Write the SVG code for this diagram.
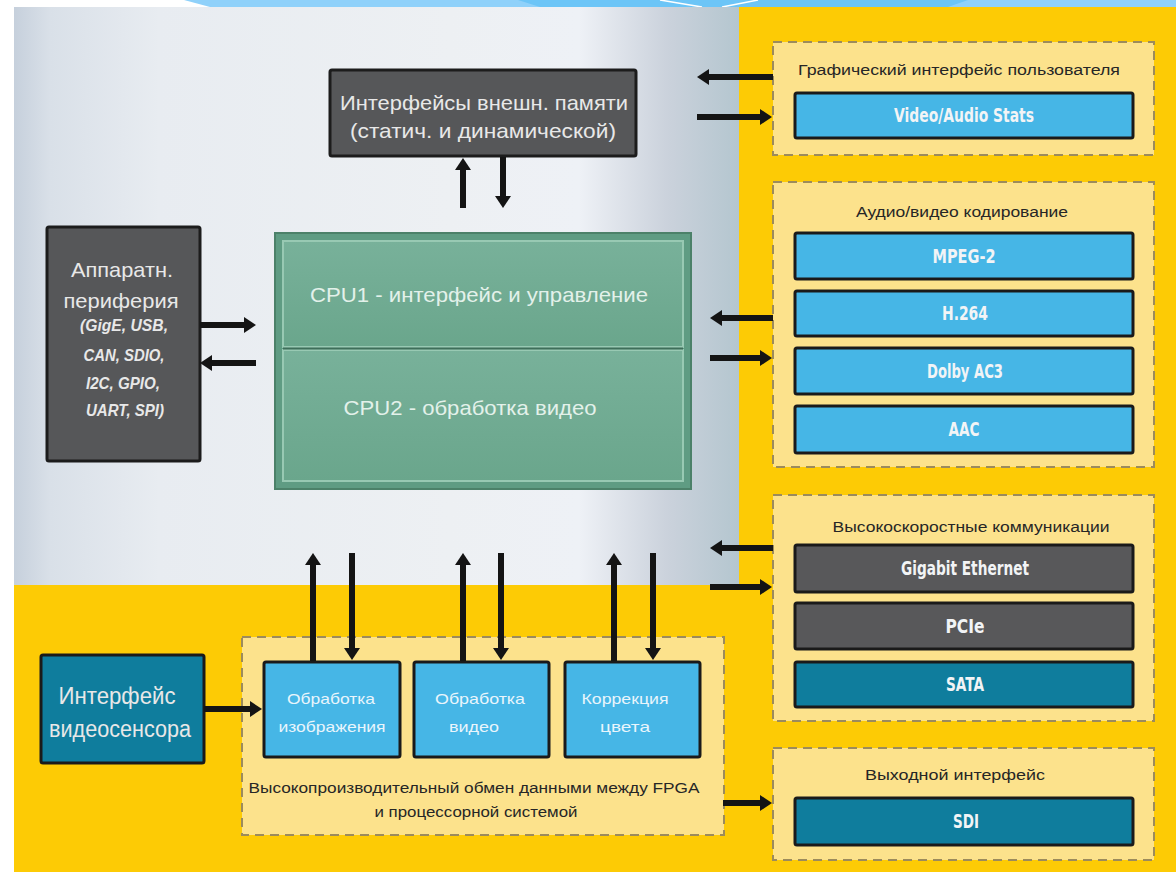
<svg xmlns="http://www.w3.org/2000/svg" width="1176" height="872" viewBox="0 0 1176 872">
<defs>
<linearGradient id="bgGray" x1="0" y1="0" x2="1" y2="0">
<stop offset="0" stop-color="#c6d0dc"/>
<stop offset="0.05" stop-color="#d9e0e8"/>
<stop offset="0.2" stop-color="#e8ecf1"/>
<stop offset="0.6" stop-color="#edf0f3"/>
<stop offset="0.78" stop-color="#eef1f6"/>
<stop offset="0.9" stop-color="#cbd2dc"/>
<stop offset="1" stop-color="#b4c6cf"/>
</linearGradient>
<linearGradient id="cpuFill" x1="0" y1="0" x2="0" y2="1">
<stop offset="0" stop-color="#78b19a"/>
<stop offset="1" stop-color="#6aa68c"/>
</linearGradient>
<marker id="ah" viewBox="0 0 12 16" refX="6" refY="8" markerWidth="12" markerHeight="16" markerUnits="userSpaceOnUse" orient="auto">
<path d="M0,0 L12,8 L0,16 z" fill="#141414"/>
</marker>
<style>
.arr{stroke:#141414;stroke-width:6;fill:none;marker-end:url(#ah)}
.grp{fill:#fce28c;stroke:#9c8b5c;stroke-width:2;stroke-dasharray:9 6}
.dark{fill:#565759;stroke:#1c1c1c;stroke-width:3}
.lblue{fill:#46b6e6;stroke:#1a1a1a;stroke-width:3}
.teal{fill:#0f7d9d;stroke:#1a1a1a;stroke-width:3}
.gbox{fill:#58585a;stroke:#1a1a1a;stroke-width:3}
.t{font-family:"Liberation Sans","DejaVu Sans",sans-serif;text-anchor:middle}
.lt{fill:#e8e8e8}
.bt{font-family:"DejaVu Sans Condensed","Liberation Sans",sans-serif;font-weight:bold;text-anchor:middle;fill:#f2f4f6;font-size:19px}
.cap{fill:#262626;font-size:14px}
</style>
</defs>

<g id="background">
<rect x="0" y="0" width="1176" height="872" fill="#ffffff"/>
<polygon points="184,0 1176,0 1176,7 210,7" fill="#8fd1fa"/>
<polygon points="518,0 968,0 948,7 540,7" fill="#6cc5f7"/>
<path d="M660,0 L702,7 M758,0 L722,7" stroke="#ffffff" stroke-width="1.5" fill="none"/>
<rect x="14" y="7" width="725" height="578" fill="url(#bgGray)"/>
<rect x="739" y="7" width="437" height="865" fill="#fdcb05"/>
<rect x="14" y="585" width="725" height="287" fill="#fdcb05"/>
</g>

<g id="mem-if">
<rect class="dark" x="330" y="70" width="306" height="86" rx="2"/>
<text class="t lt" x="484" y="110" font-size="21" textLength="288" lengthAdjust="spacingAndGlyphs">Интерфейсы внешн. памяти</text>
<text class="t lt" x="483" y="138" font-size="21" textLength="266" lengthAdjust="spacingAndGlyphs">(статич. и динамической)</text>
</g>

<g id="periph">
<rect class="dark" x="47" y="227" width="153" height="234" rx="2"/>
<text class="t lt" x="122" y="277" font-size="21" textLength="102" lengthAdjust="spacingAndGlyphs">Аппаратн.</text>
<text class="t lt" x="121" y="308" font-size="21" textLength="115" lengthAdjust="spacingAndGlyphs">периферия</text>
<text class="t lt" x="124" y="331" font-size="17" font-style="italic" font-weight="bold" textLength="88" lengthAdjust="spacingAndGlyphs">(GigE, USB,</text>
<text class="t lt" x="124" y="361" font-size="17" font-style="italic" font-weight="bold" textLength="81" lengthAdjust="spacingAndGlyphs">CAN, SDIO,</text>
<text class="t lt" x="123" y="389" font-size="17" font-style="italic" font-weight="bold" textLength="74" lengthAdjust="spacingAndGlyphs">I2C, GPIO,</text>
<text class="t lt" x="125" y="416" font-size="17" font-style="italic" font-weight="bold" textLength="78" lengthAdjust="spacingAndGlyphs">UART, SPI)</text>
</g>

<g id="cpu">
<rect x="275" y="233" width="416" height="256" fill="#5f9c83" stroke="#4c8169" stroke-width="2"/>
<rect x="283" y="241" width="400" height="106" fill="url(#cpuFill)" stroke="#98c9b3" stroke-width="2"/>
<rect x="283" y="350" width="400" height="131" fill="url(#cpuFill)" stroke="#98c9b3" stroke-width="2"/>
<line x1="283" y1="348.5" x2="683" y2="348.5" stroke="#3f6e5a" stroke-width="2"/>
<text class="t" fill="#e3f1ea" x="479" y="302" font-size="21" textLength="338" lengthAdjust="spacingAndGlyphs">CPU1 - интерфейс и управление</text>
<text class="t" fill="#e3f1ea" x="470" y="415" font-size="21" textLength="253" lengthAdjust="spacingAndGlyphs">CPU2 - обработка видео</text>
</g>

<g id="sensor">
<rect class="teal" x="41" y="655" width="163" height="108" rx="2"/>
<text class="t lt" x="117" y="704" font-size="23" textLength="117" lengthAdjust="spacingAndGlyphs">Интерфейс</text>
<text class="t lt" x="120" y="737" font-size="23" textLength="142" lengthAdjust="spacingAndGlyphs">видеосенсора</text>
</g>

<g id="fpga-group">
<rect class="grp" x="242" y="637" width="482" height="198"/>
<text class="t cap" x="474" y="793" textLength="451" lengthAdjust="spacingAndGlyphs">Высокопроизводительный обмен данными между FPGA</text>
<text class="t cap" x="476" y="817" textLength="203" lengthAdjust="spacingAndGlyphs">и процессорной системой</text>
</g>

<g id="img-proc">
<rect class="lblue" x="264" y="662" width="136" height="95" rx="2"/>
<text class="t" fill="#e9f5fc" x="331" y="704" font-size="15" textLength="88" lengthAdjust="spacingAndGlyphs">Обработка</text>
<text class="t" fill="#e9f5fc" x="332" y="732" font-size="15" textLength="107" lengthAdjust="spacingAndGlyphs">изображения</text>
</g>

<g id="vid-proc">
<rect class="lblue" x="414" y="662" width="135" height="95" rx="2"/>
<text class="t" fill="#e9f5fc" x="480" y="704" font-size="15" textLength="90" lengthAdjust="spacingAndGlyphs">Обработка</text>
<text class="t" fill="#e9f5fc" x="474" y="732" font-size="15" textLength="50" lengthAdjust="spacingAndGlyphs">видео</text>
</g>

<g id="color-corr">
<rect class="lblue" x="565" y="662" width="135" height="95" rx="2"/>
<text class="t" fill="#e9f5fc" x="625" y="704" font-size="15" textLength="87" lengthAdjust="spacingAndGlyphs">Коррекция</text>
<text class="t" fill="#e9f5fc" x="625" y="732" font-size="15" textLength="50" lengthAdjust="spacingAndGlyphs">цвета</text>
</g>

<g id="gui-group">
<rect class="grp" x="773" y="42" width="381" height="113"/>
<text class="t cap" x="959" y="75" textLength="322" lengthAdjust="spacingAndGlyphs">Графический интерфейс пользователя</text>
</g>
<g id="video-audio-stats">
<rect class="lblue" x="795" y="93" width="338" height="45" rx="2"/>
<text class="bt" x="964" y="122" textLength="140" lengthAdjust="spacingAndGlyphs">Video/Audio Stats</text>
</g>

<g id="av-group">
<rect class="grp" x="773" y="182" width="381" height="285"/>
<text class="t cap" x="962" y="217" textLength="212" lengthAdjust="spacingAndGlyphs">Аудио/видео кодирование</text>
</g>
<g id="mpeg2">
<rect class="lblue" x="795" y="233" width="338" height="46" rx="2"/>
<text class="bt" x="964" y="263" textLength="63" lengthAdjust="spacingAndGlyphs">MPEG-2</text>
</g>
<g id="h264">
<rect class="lblue" x="795" y="291" width="338" height="45" rx="2"/>
<text class="bt" x="965" y="320" textLength="46" lengthAdjust="spacingAndGlyphs">H.264</text>
</g>
<g id="dolby">
<rect class="lblue" x="795" y="348" width="338" height="46" rx="2"/>
<text class="bt" x="965" y="378" textLength="76" lengthAdjust="spacingAndGlyphs">Dolby AC3</text>
</g>
<g id="aac">
<rect class="lblue" x="795" y="406" width="338" height="47" rx="2"/>
<text class="bt" x="964" y="436" textLength="31" lengthAdjust="spacingAndGlyphs">AAC</text>
</g>

<g id="hs-group">
<rect class="grp" x="773" y="495" width="381" height="226"/>
<text class="t cap" x="971" y="532" textLength="277" lengthAdjust="spacingAndGlyphs">Высокоскоростные коммуникации</text>
</g>
<g id="gige">
<rect class="gbox" x="795" y="545" width="338" height="47" rx="2"/>
<text class="bt" x="965" y="575" textLength="128" lengthAdjust="spacingAndGlyphs">Gigabit Ethernet</text>
</g>
<g id="pcie">
<rect class="gbox" x="795" y="603" width="338" height="46" rx="2"/>
<text class="bt" x="965" y="633" textLength="39" lengthAdjust="spacingAndGlyphs">PCIe</text>
</g>
<g id="sata">
<rect class="teal" x="795" y="662" width="338" height="45" rx="2"/>
<text class="bt" x="965" y="691" textLength="38" lengthAdjust="spacingAndGlyphs">SATA</text>
</g>

<g id="out-group">
<rect class="grp" x="773" y="748" width="381" height="112"/>
<text class="t cap" x="955" y="780" textLength="180" lengthAdjust="spacingAndGlyphs">Выходной интерфейс</text>
</g>
<g id="sdi">
<rect class="teal" x="795" y="798" width="338" height="47" rx="2"/>
<text class="bt" x="966" y="828" textLength="26" lengthAdjust="spacingAndGlyphs">SDI</text>
</g>

<g id="connectors">
<line class="arr" x1="463" y1="208" x2="463" y2="164"/>
<line class="arr" x1="503" y1="157" x2="503" y2="202"/>
<line class="arr" x1="200" y1="325" x2="250" y2="325"/>
<line class="arr" x1="256" y1="363" x2="206" y2="363"/>
<line class="arr" x1="773" y1="77" x2="703" y2="77"/>
<line class="arr" x1="697" y1="117" x2="766" y2="117"/>
<line class="arr" x1="773" y1="318" x2="716" y2="318"/>
<line class="arr" x1="710" y1="358" x2="766" y2="358"/>
<line class="arr" x1="773" y1="548" x2="716" y2="548"/>
<line class="arr" x1="710" y1="587" x2="766" y2="587"/>
<line class="arr" x1="723" y1="803" x2="766" y2="803"/>
<line class="arr" x1="204" y1="709" x2="256" y2="709"/>
<line class="arr" x1="313" y1="661" x2="313" y2="559"/>
<line class="arr" x1="352" y1="553" x2="352" y2="654"/>
<line class="arr" x1="463" y1="661" x2="463" y2="559"/>
<line class="arr" x1="501" y1="553" x2="501" y2="654"/>
<line class="arr" x1="614" y1="661" x2="614" y2="559"/>
<line class="arr" x1="653" y1="553" x2="653" y2="654"/>
</g>
</svg>
